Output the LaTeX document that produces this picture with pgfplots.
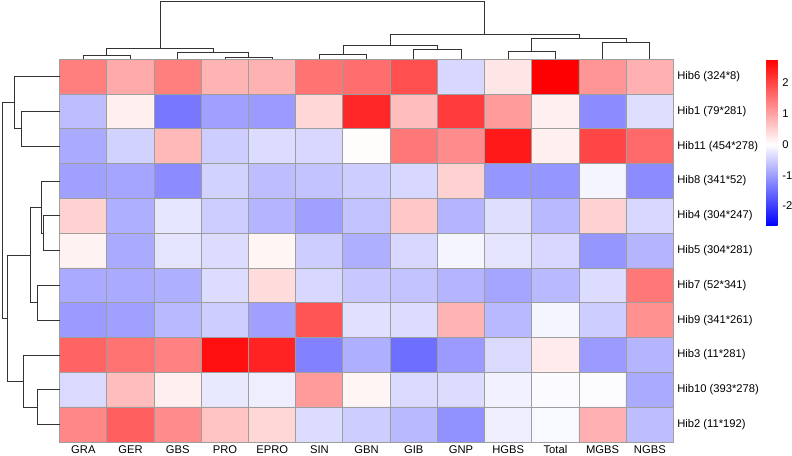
\documentclass[border=0pt]{standalone}
\usepackage{fontspec}
\setmainfont{Liberation Sans}
\usepackage{pgfplots}
\pgfplotsset{compat=1.18}

% blue - white - red scale, white sitting at 0 on [-2.64, 2.76]
\pgfplotsset{
  colormap={bwr}{rgb255(0pt)=(0,0,255); rgb255(264pt)=(255,255,255); rgb255(540pt)=(255,0,0)},
  dend/.style={draw=black!80, line width=0.7pt, mark=none},
  lbl/.style={font=\fontsize{8.4}{10}\selectfont},
}

\begin{document}
\begin{tikzpicture}
\useasboundingbox (0,0) rectangle (594pt,342pt);

% ---------------- heatmap ----------------
\begin{axis}[
  at={(44.8pt,10.5pt)}, anchor=south west,
  scale only axis, width=460.3pt, height=287pt,
  xmin=-0.5, xmax=12.5, ymin=-0.5, ymax=10.5, y dir=reverse,
  enlargelimits=false,
  xtick={0,...,12},
  xticklabels={GRA,GER,GBS,PRO,EPRO,SIN,GBN,GIB,GNP,HGBS,Total,MGBS,NGBS},
  ytick={0,...,10},
  yticklabels={Hib6 (324*8),Hib1 (79*281),Hib11 (454*278),Hib8 (341*52),Hib4 (304*247),Hib5 (304*281),Hib7 (52*341),Hib9 (341*261),Hib3 (11*281),Hib10 (393*278),Hib2 (11*192)},
  yticklabel pos=right,
  xticklabel style={lbl, anchor=north, inner sep=0pt, yshift=-2.4pt},
  yticklabel style={lbl, anchor=west, inner sep=0pt, xshift=2.7pt},
  minor xtick={-0.5,0.5,...,12.5},
  minor ytick={-0.5,0.5,...,10.5},
  xminorgrids, yminorgrids,
  minor grid style={draw=black!38, line width=0.75pt},
  major tick length=0pt, minor tick length=0pt,
  axis line style={draw=black!38, line width=0.75pt},
  axis on top,
  colormap name=bwr,
  point meta min=-2.64, point meta max=2.76,
  colorbar,
  colorbar style={
    at={(parent axis.north east)}, anchor=north west, xshift=61pt,
    scale only axis, width=8.5pt, height=124.8pt,
    ytick={-2,-1,0,1,2}, yticklabels={-2,-1,0,1,2},
    yticklabel style={lbl, anchor=west, inner sep=0pt, xshift=3.5pt},
    major tick length=0pt,
    axis line style={draw=none},
  },
]
\addplot[matrix plot*, mesh/cols=13, point meta=explicit]
  table[row sep=\\, meta=c] {
  x y c\\
  0 0 1.38\\ 1 0 0.92\\ 2 0 1.40\\ 3 0 0.81\\ 4 0 0.83\\ 5 0 1.52\\ 6 0 1.57\\ 7 0 1.90\\ 8 0 -0.41\\ 9 0 0.27\\ 10 0 2.76\\ 11 0 1.14\\ 12 0 0.86\\
  0 1 -0.67\\ 1 1 0.16\\ 2 1 -1.40\\ 3 1 -0.98\\ 4 1 -1.04\\ 5 1 0.43\\ 6 1 2.33\\ 7 1 0.70\\ 8 1 2.11\\ 9 1 1.08\\ 10 1 0.16\\ 11 1 -1.19\\ 12 1 -0.34\\
  0 2 -0.88\\ 1 2 -0.47\\ 2 2 0.76\\ 3 2 -0.52\\ 4 2 -0.36\\ 5 2 -0.41\\ 6 2 0.03\\ 7 2 1.46\\ 8 2 1.25\\ 9 2 2.49\\ 10 2 0.16\\ 11 2 2.00\\ 12 2 1.62\\
  0 3 -0.98\\ 1 3 -0.93\\ 2 3 -1.19\\ 3 3 -0.47\\ 4 3 -0.67\\ 5 3 -0.62\\ 6 3 -0.52\\ 7 3 -0.41\\ 8 3 0.49\\ 9 3 -1.09\\ 10 3 -1.09\\ 11 3 -0.10\\ 12 3 -1.19\\
  0 4 0.49\\ 1 4 -0.83\\ 2 4 -0.26\\ 3 4 -0.52\\ 4 4 -0.78\\ 5 4 -0.98\\ 6 4 -0.62\\ 7 4 0.60\\ 8 4 -0.78\\ 9 4 -0.34\\ 10 4 -0.72\\ 11 4 0.49\\ 12 4 -0.41\\
  0 5 0.14\\ 1 5 -0.88\\ 2 5 -0.28\\ 3 5 -0.36\\ 4 5 0.11\\ 5 5 -0.52\\ 6 5 -0.83\\ 7 5 -0.41\\ 8 5 -0.10\\ 9 5 -0.28\\ 10 5 -0.41\\ 11 5 -1.09\\ 12 5 -0.78\\
  0 6 -0.88\\ 1 6 -0.88\\ 2 6 -0.83\\ 3 6 -0.36\\ 4 6 0.38\\ 5 6 -0.41\\ 6 6 -0.57\\ 7 6 -0.62\\ 8 6 -0.78\\ 9 6 -0.93\\ 10 6 -0.72\\ 11 6 -0.36\\ 12 6 1.46\\
  0 7 -1.04\\ 1 7 -0.98\\ 2 7 -0.72\\ 3 7 -0.52\\ 4 7 -0.98\\ 5 7 1.84\\ 6 7 -0.31\\ 7 7 -0.36\\ 8 7 0.81\\ 9 7 -0.72\\ 10 7 -0.10\\ 11 7 -0.52\\ 12 7 1.19\\
  0 8 1.68\\ 1 8 1.52\\ 2 8 1.35\\ 3 8 2.60\\ 4 8 2.38\\ 5 8 -1.29\\ 6 8 -0.83\\ 7 8 -1.50\\ 8 8 -1.04\\ 9 8 -0.38\\ 10 8 0.22\\ 11 8 -1.04\\ 12 8 -0.78\\
  0 9 -0.38\\ 1 9 0.70\\ 2 9 0.16\\ 3 9 -0.24\\ 4 9 -0.18\\ 5 9 1.08\\ 6 9 0.11\\ 7 9 -0.38\\ 8 9 -0.36\\ 9 9 -0.15\\ 10 9 -0.05\\ 11 9 -0.03\\ 12 9 -0.88\\
  0 10 1.30\\ 1 10 1.73\\ 2 10 1.25\\ 3 10 0.65\\ 4 10 0.43\\ 5 10 -0.36\\ 6 10 -0.52\\ 7 10 -0.72\\ 8 10 -1.14\\ 9 10 -0.18\\ 10 10 -0.07\\ 11 10 0.86\\ 12 10 -0.67\\
};
\end{axis}

% ---------------- column dendrogram ----------------
\begin{axis}[
  at={(44.8pt,297.5pt)}, anchor=south west,
  scale only axis, width=460.3pt, height=43.5pt,
  xmin=-0.5, xmax=12.5, ymin=0, ymax=174,
  axis lines=none, clip=false,
]
\addplot[dend] coordinates {(0,0) (0,12) (1,12) (1,0)};
\addplot[dend] coordinates {(3,0) (3,6) (4,6) (4,0)};
\addplot[dend] coordinates {(2,0) (2,21) (3.5,21) (3.5,6)};
\addplot[dend] coordinates {(0.5,12) (0.5,33) (2.75,33) (2.75,21)};
\addplot[dend] coordinates {(5,0) (5,16) (6,16) (6,0)};
\addplot[dend] coordinates {(7,0) (7,29) (8,29) (8,0)};
\addplot[dend] coordinates {(5.5,16) (5.5,42) (7.5,42) (7.5,29)};
\addplot[dend] coordinates {(9,0) (9,23) (10,23) (10,0)};
\addplot[dend] coordinates {(11,0) (11,52) (12,52) (12,0)};
\addplot[dend] coordinates {(9.5,23) (9.5,64) (11.5,64) (11.5,52)};
\addplot[dend] coordinates {(6.5,42) (6.5,75) (10.5,75) (10.5,64)};
\addplot[dend] coordinates {(1.625,33) (1.625,174) (8.5,174) (8.5,75)};
\end{axis}

% ---------------- row dendrogram ----------------
\begin{axis}[
  at={(44.8pt,10.5pt)}, anchor=south east,
  scale only axis, width=43.5pt, height=287pt,
  xmin=0, xmax=174, x dir=reverse,
  ymin=-0.5, ymax=10.5, y dir=reverse,
  axis lines=none, clip=false,
]
\addplot[dend] coordinates {(0,1) (116,1) (116,2) (0,2)};
\addplot[dend] coordinates {(0,0) (135,0) (135,1.5) (116,1.5)};
\addplot[dend] coordinates {(0,4) (50,4) (50,5) (0,5)};
\addplot[dend] coordinates {(0,3) (56,3) (56,4.5) (50,4.5)};
\addplot[dend] coordinates {(0,6) (67,6) (67,7) (0,7)};
\addplot[dend] coordinates {(56,3.75) (88,3.75) (88,6.5) (67,6.5)};
\addplot[dend] coordinates {(0,9) (67,9) (67,10) (0,10)};
\addplot[dend] coordinates {(0,8) (109,8) (109,9.5) (67,9.5)};
\addplot[dend] coordinates {(88,5.125) (156,5.125) (156,8.75) (109,8.75)};
\addplot[dend] coordinates {(135,0.75) (173,0.75) (173,6.9375) (156,6.9375)};
\end{axis}
\end{tikzpicture}
\end{document}
